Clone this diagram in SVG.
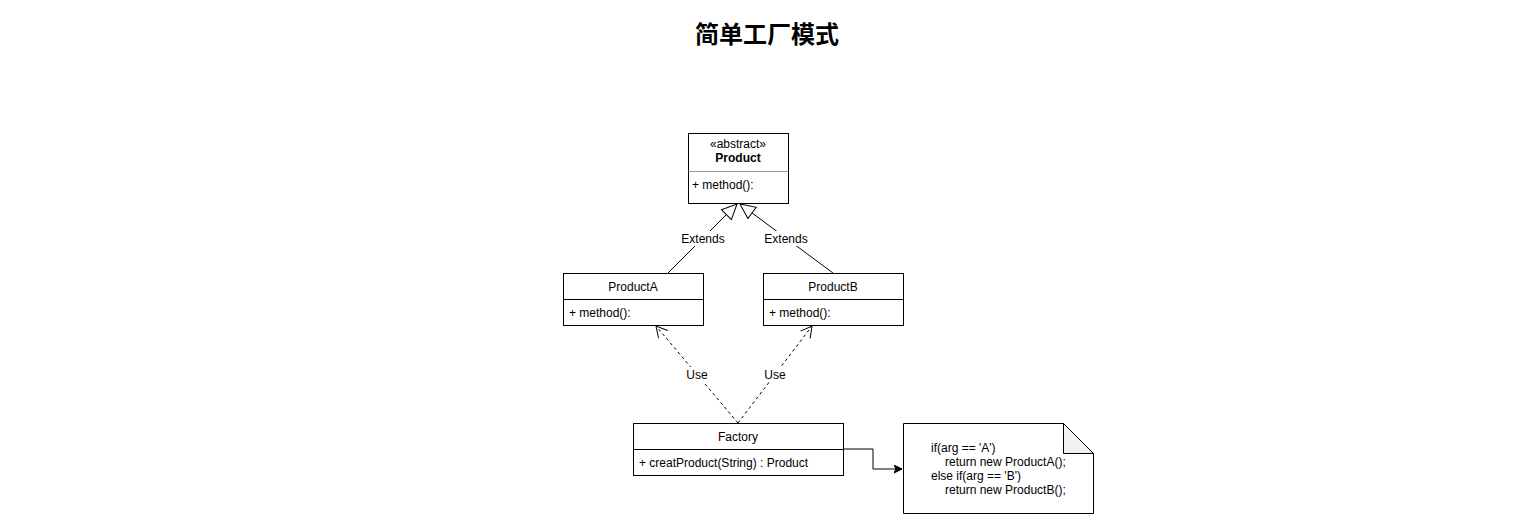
<svg xmlns="http://www.w3.org/2000/svg" width="1531" height="521" viewBox="0 0 1531 521">
<defs>
<style>
text{font-family:"Liberation Sans",Arial,"Noto Sans CJK SC",sans-serif;font-size:12px;fill:#000}
.box{fill:#fff;stroke:#000;stroke-width:1}
.div{stroke:#000;stroke-width:1}
.c{text-anchor:middle}
.edge{fill:none;stroke:#000;stroke-width:1}
.dash{stroke-dasharray:3 3}
.lbl{text-anchor:middle}
.lblbg{fill:#fff}
</style>
<marker id="tri" markerWidth="20" markerHeight="20" refX="16" refY="8" orient="auto" markerUnits="userSpaceOnUse">
<path d="M1,1 L16,8 L1,15 Z" fill="#fff" stroke="#000" stroke-width="1"/>
</marker>
<marker id="open" markerWidth="20" markerHeight="20" refX="12" refY="7" orient="auto" markerUnits="userSpaceOnUse">
<path d="M1,1 L12,7 L1,13" fill="none" stroke="#000" stroke-width="1"/>
</marker>
<marker id="fill" markerWidth="12" markerHeight="12" refX="8" refY="4" orient="auto" markerUnits="userSpaceOnUse">
<path d="M0,0 L8,4 L0,8 L2,4 Z" fill="#000" stroke="#000" stroke-width="1"/>
</marker>
</defs>
<rect width="1531" height="521" fill="#fff"/>
<text x="767" y="43" class="c" style="font-size:24px;font-weight:bold;font-family:'Noto Sans CJK SC','Liberation Sans',sans-serif">简单工厂模式</text>
<g id="connectors">
<path class="edge" d="M668,273 L737,204" marker-end="url(#tri)"/>
<path class="edge" d="M833,273 L740,204" marker-end="url(#tri)"/>
<path class="edge dash" d="M738,423 L656,326" marker-end="url(#open)"/>
<path class="edge dash" d="M738,423 L812,326" marker-end="url(#open)"/>
<path class="edge" d="M843,449 L873,449 L873,469 L902,469" marker-end="url(#fill)"/>
<rect class="lblbg" x="681" y="231" width="45" height="15"/>
<text x="703" y="243" class="lbl">Extends</text>
<rect class="lblbg" x="764" y="231" width="45" height="15"/>
<text x="786" y="243" class="lbl">Extends</text>
<rect class="lblbg" x="685" y="367" width="24" height="15"/>
<text x="697" y="379" class="lbl">Use</text>
<rect class="lblbg" x="763" y="367" width="24" height="15"/>
<text x="775" y="379" class="lbl">Use</text>
</g>
<g id="product">
<rect class="box" x="688.5" y="133.5" width="100" height="70"/>
<line x1="688.5" y1="171.5" x2="788.5" y2="171.5" stroke="#999"/>
<text x="738" y="148" class="c">«abstract»</text>
<text x="738" y="162" class="c" style="font-weight:bold">Product</text>
<text x="692" y="189">+ method():</text>
</g>
<g id="productA">
<rect class="box" x="563.5" y="273.5" width="140" height="52"/>
<line class="div" x1="563.5" y1="299.5" x2="703.5" y2="299.5"/>
<text x="633" y="291" class="c">ProductA</text>
<text x="569" y="317">+ method():</text>
</g>
<g id="productB">
<rect class="box" x="763.5" y="273.5" width="140" height="52"/>
<line class="div" x1="763.5" y1="299.5" x2="903.5" y2="299.5"/>
<text x="833" y="291" class="c">ProductB</text>
<text x="769" y="317">+ method():</text>
</g>
<g id="factory">
<rect class="box" x="633.5" y="423.5" width="210" height="52"/>
<line class="div" x1="633.5" y1="449.5" x2="843.5" y2="449.5"/>
<text x="738" y="441" class="c">Factory</text>
<text x="639" y="467">+ creatProduct(String) : Product</text>
</g>
<g id="note">
<path class="box" d="M903.5,423.5 L1063.5,423.5 L1093.5,453.5 L1093.5,513.5 L903.5,513.5 Z"/>
<path d="M1063.5,423.5 L1063.5,453.5 L1093.5,453.5 Z" fill="#f1f1f1" stroke="#000"/>
<text x="931" y="452">if(arg == 'A')</text>
<text x="945" y="466">return new ProductA();</text>
<text x="931" y="480">else if(arg == 'B')</text>
<text x="945" y="494">return new ProductB();</text>
</g>
</svg>
